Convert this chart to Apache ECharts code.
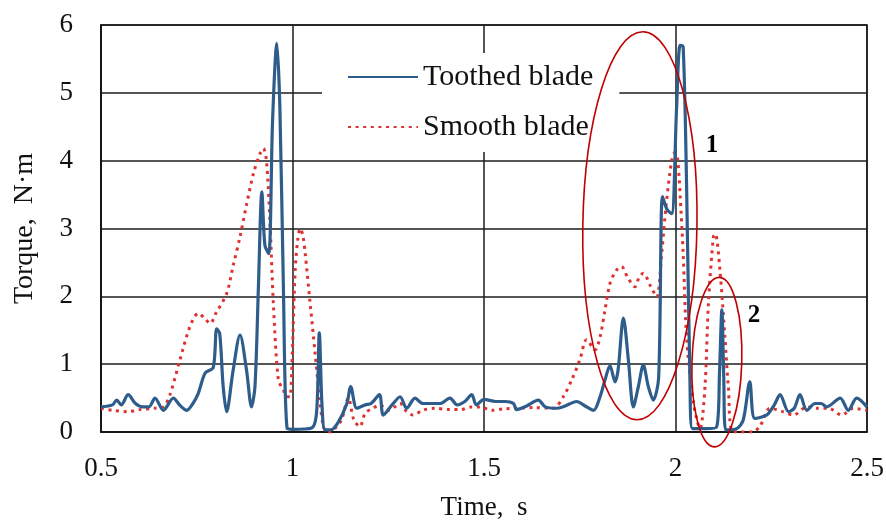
<!DOCTYPE html>
<html>
<head>
<meta charset="utf-8">
<script src="https://cdn.jsdelivr.net/npm/echarts@6/dist/echarts.min.js"></script>
<style>
  html, body { margin: 0; padding: 0; background: #fff; }
  #chart { width: 886px; height: 521px; }
</style>
</head>
<body>
<div id="chart"></div>
<script>
// Torque traces of the two blade types (time in s, torque in N·m)
const toothedTime = [
  0.50, 0.53, 0.541, 0.553, 0.571, 0.59, 0.61, 0.625, 0.641, 0.663, 0.689, 0.705, 0.724, 0.740,
  0.754, 0.772, 0.793, 0.802, 0.810, 0.819, 0.828, 0.845, 0.863, 0.880, 0.893, 0.902, 0.911,
  0.920, 0.928, 0.938, 0.948, 0.959, 0.967, 0.976, 0.986, 1.00, 1.05,
  1.063, 1.070, 1.077, 1.085, 1.10, 1.12, 1.142, 1.152, 1.168, 1.19, 1.205, 1.227, 1.237,
  1.26, 1.281, 1.298, 1.32, 1.34, 1.36, 1.385, 1.411, 1.43, 1.45, 1.468, 1.48, 1.50, 1.53,
  1.555, 1.577, 1.585, 1.61, 1.642, 1.66, 1.69, 1.71, 1.742, 1.765, 1.786, 1.803, 1.816,
  1.829, 1.842, 1.850, 1.864, 1.877, 1.890, 1.903, 1.916, 1.929, 1.942, 1.956, 1.966,
  1.978, 1.990, 2.003, 2.012, 2.020, 2.029, 2.038, 2.044, 2.08, 2.107, 2.115, 2.121,
  2.126, 2.131, 2.16, 2.177, 2.194, 2.207, 2.238, 2.258, 2.273, 2.295, 2.31, 2.325, 2.343,
  2.364, 2.38, 2.395, 2.43, 2.451, 2.473, 2.50
];
const toothedTorque = [
  0.37, 0.40, 0.47, 0.40, 0.55, 0.42, 0.37, 0.37, 0.50, 0.32, 0.50, 0.40, 0.32, 0.42,
  0.57, 0.87, 0.95, 1.52, 1.45, 0.67, 0.30, 0.91, 1.43, 0.91, 0.37, 0.67, 2.14,
  3.54, 2.75, 2.63, 4.60, 5.73, 4.80, 2.20, 0.05, 0.04, 0.06,
  0.30, 1.46, 0.40, 0.03, 0.03, 0.15, 0.42, 0.67, 0.35, 0.40, 0.42, 0.55, 0.25,
  0.40, 0.52, 0.35, 0.50, 0.42, 0.42, 0.42, 0.50, 0.40, 0.45, 0.55, 0.40, 0.48, 0.45,
  0.45, 0.42, 0.33, 0.38, 0.47, 0.37, 0.35, 0.38, 0.45, 0.38, 0.32, 0.52, 0.77,
  0.98, 0.74, 0.91, 1.68, 1.06, 0.37, 0.67, 0.99, 0.67, 0.47, 0.80, 3.47,
  3.28, 3.22, 4.80, 5.70, 5.68, 3.62, 0.67, 0.05, 0.05, 0.07, 0.90, 1.80,
  0.80, 0.03, 0.05, 0.18, 0.74, 0.20, 0.25, 0.40, 0.55, 0.30, 0.35, 0.55, 0.32,
  0.42, 0.42, 0.37, 0.50, 0.32, 0.50, 0.37
];

const smoothTime = [
  0.50, 0.53, 0.57, 0.60, 0.64, 0.663, 0.68, 0.706, 0.732, 0.754, 0.770, 0.785, 0.800,
  0.828, 0.845, 0.863, 0.880, 0.898, 0.915, 0.924, 0.932, 0.941, 0.950, 0.963, 0.976,
  0.985, 0.993, 0.998, 1.007, 1.014, 1.020, 1.027, 1.033, 1.046, 1.059, 1.072, 1.080,
  1.089, 1.10, 1.115, 1.128, 1.146, 1.160, 1.176, 1.19, 1.21, 1.228, 1.25, 1.27, 1.281,
  1.298, 1.315, 1.34, 1.37, 1.41, 1.44, 1.467, 1.49, 1.52, 1.55, 1.59, 1.63, 1.681,
  1.707, 1.73, 1.75, 1.768, 1.79, 1.803, 1.816, 1.829, 1.845, 1.859, 1.875, 1.894,
  1.905, 1.916, 1.935, 1.951, 1.964, 1.976, 1.990, 1.998, 2.005, 2.012, 2.020, 2.029,
  2.047, 2.064, 2.077, 2.086, 2.099, 2.104, 2.116, 2.129, 2.138, 2.151, 2.20, 2.22,
  2.247, 2.28, 2.308, 2.343, 2.37, 2.40, 2.434, 2.464, 2.50
];
const smoothTorque = [
  0.35, 0.32, 0.30, 0.33, 0.35, 0.37, 0.55, 1.06, 1.55, 1.75, 1.68, 1.60, 1.75,
  2.04, 2.45, 2.88, 3.35, 3.81, 4.10, 4.18, 4.00, 3.12, 1.90, 0.77, 0.62,
  0.52, 0.52, 0.91, 2.39, 2.85, 3.00, 2.90, 2.64, 1.90, 1.16, 0.43, 0.10,
  0.00, 0.00, 0.08, 0.18, 0.50, 0.18, 0.08, 0.28, 0.35, 0.40, 0.32, 0.38, 0.42,
  0.30, 0.25, 0.32, 0.35, 0.33, 0.33, 0.37, 0.37, 0.32, 0.34, 0.35, 0.36, 0.35,
  0.52, 0.78, 1.06, 1.36, 1.21, 1.40, 1.80, 2.19, 2.38, 2.44, 2.28, 2.14,
  2.28, 2.34, 2.15, 1.99, 2.64, 3.37, 4.00, 4.12, 4.05, 3.50, 2.63, 1.40,
  0.42, 0.05, 0.67, 1.90, 2.88, 2.92, 2.39, 1.40, 0.67, 0.00, 0.00, 0.08,
  0.35, 0.30, 0.25, 0.37, 0.35, 0.35, 0.25, 0.35, 0.32
];

const seriesNames = ['Toothed blade', 'Smooth blade'];

// Highlighted regions, in axis units: centre, half-extents, tilt (rad), tag position
const regionMarks = [
  { tag: '1', t: 1.907, v: 3.04, dt: 0.149, dv: 2.86, tilt: -0.016, tagT: 2.095, tagV: 4.23 },
  { tag: '2', t: 2.108, v: 1.03, dt: 0.065, dv: 1.25, tilt: -0.03, tagT: 2.205, tagV: 1.71 }
];

const pairs = (xs, ys) => xs.map((x, i) => [x, ys[i]]);
const serif = 'Liberation Serif, Times New Roman, serif';

const chart = echarts.init(document.getElementById('chart'), null, { renderer: 'canvas' });

chart.setOption({
  animation: false,
  backgroundColor: '#fff',
  grid: {
    left: 101, right: 19, top: 25, bottom: 89,
    outerBoundsMode: 'none',
    show: true, borderColor: '#111', borderWidth: 1.5, backgroundColor: 'transparent'
  },
  legend: {
    orient: 'vertical',
    left: 322, top: 53,
    padding: [9, 26, 10, 25],
    backgroundColor: '#fff',
    itemWidth: 70, itemHeight: 20, itemGap: 20,
    selectedMode: false,
    data: seriesNames,
    itemStyle: { opacity: 0 },
    textStyle: { fontFamily: serif, fontSize: 30, color: '#111', lineHeight: 30 }
  },
  xAxis: {
    type: 'value', min: 0.5, max: 2.5, interval: 0.5,
    name: 'Time,  s', nameLocation: 'middle', nameGap: 62,
    nameTextStyle: { fontFamily: serif, fontSize: 27, color: '#111' },
    axisLine: { lineStyle: { color: '#111', width: 1.5 } },
    axisTick: { show: false },
    axisLabel: { fontFamily: serif, fontSize: 27, color: '#111', margin: 23 },
    splitLine: { show: true, lineStyle: { color: '#1c1c1c', width: 1.5 } }
  },
  yAxis: {
    type: 'value', min: 0, max: 6, interval: 1,
    name: 'Torque,  N·m', nameLocation: 'middle', nameGap: 62, nameRotate: 90,
    nameTextStyle: { fontFamily: serif, fontSize: 28, color: '#111' },
    axisLine: { show: true, lineStyle: { color: '#111', width: 1.5 } },
    axisTick: { show: false },
    axisLabel: { fontFamily: serif, fontSize: 27, color: '#111', margin: 28 },
    splitLine: { show: true, lineStyle: { color: '#1c1c1c', width: 1.5 } }
  },
  series: [
    {
      name: seriesNames[0], type: 'line', data: pairs(toothedTime, toothedTorque),
      symbol: 'none', smooth: 0.3, clip: true, z: 3,
      lineStyle: { color: '#2e5d8c', width: 3.2 },
      itemStyle: { color: '#2e5d8c' }
    },
    {
      name: seriesNames[1], type: 'line', data: pairs(smoothTime, smoothTorque),
      symbol: 'none', smooth: 0.3, clip: true, z: 2,
      lineStyle: { color: '#e03131', width: 3, type: [3, 4.6] },
      itemStyle: { color: '#e03131' }
    }
  ]
});

// Outline the two highlighted regions and tag them
function drawRegionMarks() {
  const elements = [];
  regionMarks.forEach((m, i) => {
    const c = chart.convertToPixel({ gridIndex: 0 }, [m.t, m.v]);
    const ex = chart.convertToPixel({ gridIndex: 0 }, [m.t + m.dt, m.v + m.dv]);
    const tagPos = chart.convertToPixel({ gridIndex: 0 }, [m.tagT, m.tagV]);
    elements.push({
      type: 'ellipse', id: 'ring' + i, x: c[0], y: c[1], rotation: m.tilt, z: 10,
      shape: { cx: 0, cy: 0, rx: Math.abs(ex[0] - c[0]), ry: Math.abs(c[1] - ex[1]) },
      style: { fill: null, stroke: '#c00000', lineWidth: 1.6 }
    });
    elements.push({
      type: 'text', id: 'tag' + i, x: tagPos[0], y: tagPos[1], z: 10,
      style: {
        text: m.tag, fill: '#000', font: 'bold 25px ' + serif,
        align: 'center', verticalAlign: 'middle'
      }
    });
  });
  chart.setOption({ graphic: { elements: elements } });
}
drawRegionMarks();
</script>
</body>
</html>
